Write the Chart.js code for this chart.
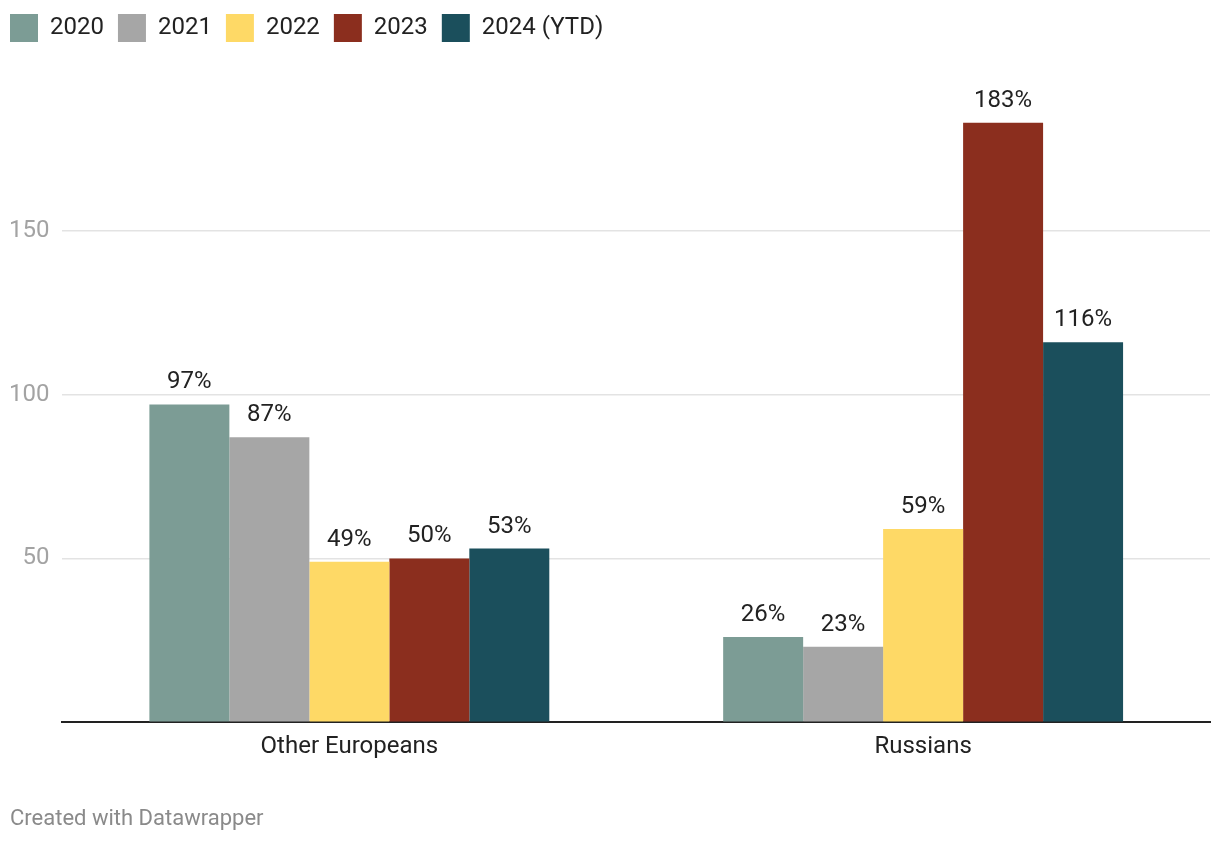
<!DOCTYPE html>
<html>
<head>
<meta charset="utf-8">
<script src="https://cdn.jsdelivr.net/npm/chart.js@4.4.1/dist/chart.umd.min.js"></script>
<style>
  body { margin: 0; background: #fff; font-family: Roboto, sans-serif; }
  #wrap { position: relative; width: 1220px; height: 844px; }
  #note { position: absolute; left: 10px; top: 805px; font-size: 22px; color: #8a8a8a; font-family: Roboto, sans-serif; }
</style>
</head>
<body>
<div id="wrap"><canvas id="myChart"></canvas><div id="note">Created with Datawrapper</div></div>
<script>
const groups = ['Other Europeans', 'Russians'];
const years = ['2020', '2021', '2022', '2023', '2024 (YTD)'];
const colors = ['#7c9c95', '#a6a6a6', '#fed966', '#8b2e1e', '#1b4f5c'];
const values2020 = [97, 26];
const values2021 = [87, 23];
const values2022 = [49, 59];
const values2023 = [50, 183];
const values2024 = [53, 116];
const yTicks = [50, 100, 150];

const allValues = [values2020, values2021, values2022, values2023, values2024];

let datasets = [];
for (let i = 0; i < years.length; i++) {
    datasets.push({
        label: years[i],
        data: allValues[i],
        backgroundColor: colors[i],
        borderWidth: 0
    });
}

// draws "97%" style labels over each bar
const barLabels = {
    id: 'barLabels',
    afterDatasetsDraw(chart) {
        const ctx = chart.ctx;
        ctx.save();
        ctx.font = '24px Roboto';
        ctx.fillStyle = '#222';
        ctx.textAlign = 'center';
        ctx.textBaseline = 'alphabetic';
        chart.data.datasets.forEach((ds, i) => {
            chart.getDatasetMeta(i).data.forEach((bar, j) => {
                ctx.fillText(ds.data[j] + '%', bar.x, bar.y - 16);
            });
        });
        ctx.restore();
    }
};

// fixed legend height so the plot starts where the original does
const legendHeight = {
    id: 'legendHeight',
    beforeInit(chart) {
        const fit = chart.legend.fit;
        chart.legend.fit = function () {
            fit.bind(chart.legend)();
            this.height = 67;
        };
    }
};

const config = {
    type: 'bar',
    data: { labels: groups, datasets: datasets },
    plugins: [barLabels, legendHeight],
    options: {
        responsive: true,
        maintainAspectRatio: false,
        animation: false,
        layout: { padding: { left: -4, right: 10, top: 0, bottom: 73 } },
        datasets: { bar: { categoryPercentage: 0.697, barPercentage: 1 } },
        plugins: {
            tooltip: { enabled: false },
            legend: {
                position: 'top',
                align: 'start',
                labels: {
                    boxWidth: 28,
                    boxHeight: 28,
                    padding: 14,
                    color: '#222',
                    font: { family: 'Roboto', size: 24 }
                }
            }
        },
        scales: {
            x: {
                grid: { display: false, drawTicks: false },
                border: { color: '#222', width: 2 },
                ticks: { color: '#222', padding: 10, font: { family: 'Roboto', size: 24 } }
            },
            y: {
                min: 0,
                max: 200,
                border: { display: false },
                grid: {
                    drawTicks: false,
                    lineWidth: 1.5,
                    color: c => yTicks.includes(c.tick.value) ? '#e3e3e3' : 'rgba(0,0,0,0)'
                },
                ticks: {
                    stepSize: 50,
                    padding: 13,
                    color: '#a3a3a3',
                    font: { family: 'Roboto', size: 24 },
                    callback: v => yTicks.includes(v) ? v : ''
                }
            }
        }
    }
};

let ctxEl = document.getElementById('myChart');
var myChart = new Chart(ctxEl, config);
</script>
</body>
</html>
